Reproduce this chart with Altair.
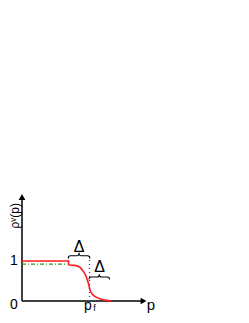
import altair as alt
import pandas as pd

# ---- data (p in units of p_f, rho normalised to 1) ----
red_flat_p = [0.0, 0.69, 0.69]
red_flat_rho = [1.0, 1.0, 0.9]
red_curve_p = [0.69, 0.785, 0.859, 0.908, 0.948, 0.982, 1.007, 1.041, 1.107, 1.181, 1.279, 1.32]
red_curve_rho = [0.9, 0.89, 0.84, 0.74, 0.625, 0.45, 0.28, 0.175, 0.09, 0.04, 0.01, 0.0]
green_p = [0.0, 0.66]
green_rho = [0.92, 0.92]
pf_value = 1.0
pf_line_top = 1.12
delta = 0.31
brace1_rho = 1.13
brace2_rho = 0.6
axis_x_end = 1.78
axis_y_end = 2.55

tick_labels = ["1", "0"]
tick_rho = [1.0, -0.1]

XD = [-0.2074, 3.2444]
YD = [-0.35, 7.325]
xs = alt.Scale(domain=XD)
ys = alt.Scale(domain=YD)
FONT = "Liberation Sans"


def X(f="p"):
    return alt.X(f"{f}:Q", scale=xs, axis=None)


def Y(f="rho"):
    return alt.Y(f"{f}:Q", scale=ys, axis=None)


axes_df = pd.DataFrame({
    "p": [0, 0], "rho": [0, 0],
    "p2": [axis_x_end, 0], "rho2": [0, axis_y_end],
})
axes = alt.Chart(axes_df).mark_rule(color="black", strokeWidth=1.5).encode(
    x=X(), y=Y(), x2="p2:Q", y2="rho2:Q")

arrows_df = pd.DataFrame({
    "p": [0, axis_x_end + 0.02], "rho": [axis_y_end + 0.05, 0],
    "shape": ["triangle-up", "triangle-right"]})
arrows = alt.Chart(arrows_df).mark_point(filled=True, color="black", size=45, opacity=1).encode(
    x=X(), y=Y(), shape=alt.Shape("shape:N", scale=None))

green = alt.Chart(pd.DataFrame({"p": green_p, "rho": green_rho})).mark_line(
    color="#2a9a2a", strokeWidth=1.3, strokeDash=[4, 2, 1, 2]).encode(x=X(), y=Y())

red_flat = alt.Chart(pd.DataFrame({"p": red_flat_p, "rho": red_flat_rho, "o": range(3)})).mark_line(
    color="#ff1a1a", strokeWidth=1.6).encode(x=X(), y=Y(), order="o:Q")
red_curve = alt.Chart(pd.DataFrame({"p": red_curve_p, "rho": red_curve_rho})).mark_line(
    color="#ff1a1a", strokeWidth=1.6, interpolate="monotone").encode(x=X(), y=Y())

pf_line = alt.Chart(pd.DataFrame({"p": [pf_value], "rho": [0], "rho2": [pf_line_top]})).mark_rule(
    color="#3a3acc", strokeWidth=1.3, strokeDash=[1, 3]).encode(x=X(), y=Y(), y2="rho2:Q")

brace_path = "M -1 0.24 Q -1 0 -0.8 0 L -0.2 0 Q 0 0 0 -0.28 Q 0 0 0.2 0 L 0.8 0 Q 1 0 1 0.24"
brace_df = pd.DataFrame({
    "p": [pf_value - delta / 2, pf_value + 0.145],
    "rho": [brace1_rho, brace2_rho],
    "w": [21.5 ** 2, 20.5 ** 2]})
braces = alt.Chart(brace_df).mark_point(
    shape=brace_path, filled=False, color="black", strokeWidth=1.1, opacity=1).encode(
    x=X(), y=Y(), size=alt.Size("w:Q", scale=None))

delta_df = pd.DataFrame({"p": [pf_value - delta / 2, pf_value + 0.15], "rho": [1.35, 0.85], "t": ["Δ", "Δ"]})
deltas = alt.Chart(delta_df).mark_text(font=FONT, fontSize=16, color="black").encode(
    x=X(), y=Y(), text="t:N")

ticks = alt.Chart(pd.DataFrame({"p": [-0.1185] * 2, "rho": tick_rho, "t": tick_labels})).mark_text(
    font=FONT, fontSize=14, color="black").encode(x=X(), y=Y(), text="t:N")

xlab = alt.Chart(pd.DataFrame({"p": [1.91], "rho": [-0.1], "t": ["p"]})).mark_text(
    font=FONT, fontSize=15, color="black").encode(x=X(), y=Y(), text="t:N")
pf_p = alt.Chart(pd.DataFrame({"p": [0.975], "rho": [-0.13], "t": ["p"]})).mark_text(
    font=FONT, fontSize=14, color="black").encode(x=X(), y=Y(), text="t:N")
pf_f = alt.Chart(pd.DataFrame({"p": [1.075], "rho": [-0.18], "t": ["f"]})).mark_text(
    font=FONT, fontSize=9, color="black").encode(x=X(), y=Y(), text="t:N")

ylab = alt.Chart(pd.DataFrame({"p": [-0.108], "rho": [2.13], "t": ["ρᵛ(p)"]})).mark_text(
    font=FONT, fontSize=12, color="black", angle=270).encode(x=X(), y=Y(), text="t:N")

chart = alt.layer(
    axes, arrows, green, red_flat, red_curve, pf_line, braces, deltas, ticks, xlab, pf_p, pf_f, ylab
).properties(width=233, height=307, autosize=alt.AutoSizeParams(type="none"), padding=0
).configure(background="white", view=alt.ViewConfig(stroke=None))

chart.save("out.html", embed_options={"renderer": "svg", "actions": False})
